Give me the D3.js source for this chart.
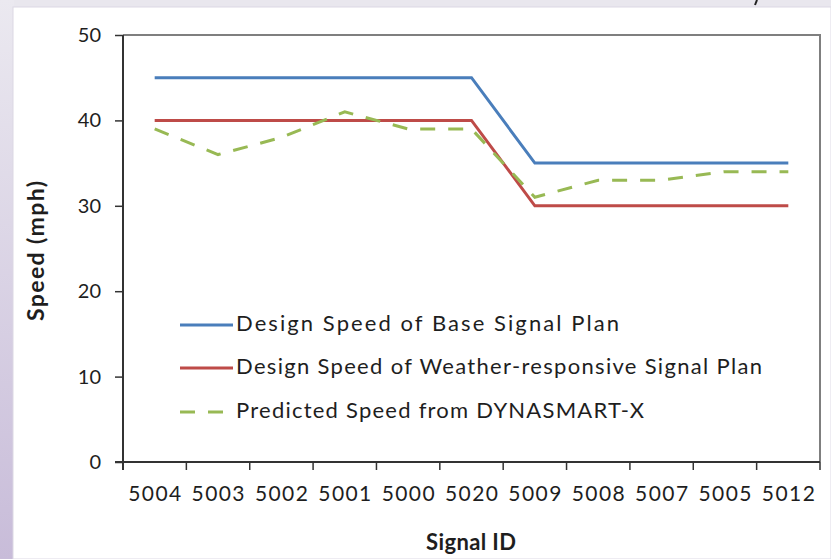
<!DOCTYPE html>
<html>
<head>
<meta charset="utf-8">
<script src="https://cdn.jsdelivr.net/npm/d3@7"></script>
<style>
  html, body { margin: 0; padding: 0; background: #fff; }
  svg { display: block; }
  text { font-family: Lato, "Open Sans", "DejaVu Sans", sans-serif; fill: #1e1e1e; }
</style>
</head>
<body>
<svg id="chart" width="831" height="559"></svg>
<script>
// Signal IDs along the corridor, in travel order
const signals = ["5004", "5003", "5002", "5001", "5000", "5020", "5009", "5008", "5007", "5005", "5012"];

// Speeds in mph at each signal
const baseDesignSpeed    = [45, 45, 45, 45, 45, 45, 35, 35, 35, 35, 35];
const weatherDesignSpeed = [40, 40, 40, 40, 40, 40, 30, 30, 30, 30, 30];
const predictedSpeed     = [39, 36, 38, 41, 39, 39, 31, 33, 33, 34, 34];

const yTicks = [0, 10, 20, 30, 40, 50];

const seriesNames = [
  "Design Speed of Base Signal Plan",
  "Design Speed of Weather-responsive Signal Plan",
  "Predicted Speed from DYNASMART-X"
];

const series = [
  { name: seriesNames[0], values: baseDesignSpeed,    color: "#4a7ebb", dash: null,    textWidth: 383 },
  { name: seriesNames[1], values: weatherDesignSpeed, color: "#be4b48", dash: null,    textWidth: 526 },
  { name: seriesNames[2], values: predictedSpeed,     color: "#98b954", dash: "15,13", textWidth: 408 }
];

const W = 831, H = 559;
const svg = d3.select("#chart");

// Slide frame: lavender strips on the top and left edges
const defs = svg.append("defs");
const grad = defs.append("linearGradient")
  .attr("id", "sideGrad").attr("x1", 0).attr("y1", 0).attr("x2", 0).attr("y2", 1);
grad.append("stop").attr("offset", "0%").attr("stop-color", "#ebe9f0");
grad.append("stop").attr("offset", "100%").attr("stop-color", "#c8bcd9");

svg.append("rect").attr("x", 0).attr("y", 0).attr("width", W).attr("height", H).attr("fill", "#e9e7ee");
svg.append("rect").attr("x", 0).attr("y", 0).attr("width", 14).attr("height", H).attr("fill", "url(#sideGrad)");
svg.append("rect").attr("x", 13).attr("y", 7).attr("width", W - 13).attr("height", H - 7)
  .attr("fill", "#fff").attr("stroke", "#dcd8e4").attr("stroke-width", 1);
// tail of a glyph from the slide title above
svg.append("path").attr("d", "M757,0 L755,5").attr("stroke", "#222").attr("stroke-width", 2);

// Plot area
const plotLeft = 123, plotRight = 820, plotTop = 35, plotBottom = 462;

const x = d3.scaleBand().domain(signals).range([plotLeft, plotRight]).padding(0);
const y = d3.scaleLinear().domain([0, 50]).range([plotBottom, plotTop]);

// Plot border on top and right
svg.append("path")
  .attr("d", `M${plotLeft},${plotTop} H${plotRight} V${plotBottom}`)
  .attr("fill", "none").attr("stroke", "#7f7f7f").attr("stroke-width", 2);

// Y axis
const yAxis = svg.append("g").attr("transform", `translate(${plotLeft},0)`)
  .call(d3.axisLeft(y).tickValues(yTicks).tickSize(8).tickPadding(14).tickSizeOuter(0));
yAxis.select(".domain").attr("stroke", "#333").attr("stroke-width", 2)
  .attr("d", `M0,${plotTop} V${plotBottom + 8}`);
yAxis.selectAll(".tick line").attr("stroke", "#333").attr("stroke-width", 1.5);
yAxis.selectAll(".tick text").attr("font-size", 20).attr("fill", "#1e1e1e")
  .style("font-family", "Lato, sans-serif");

// X axis: ticks sit on category boundaries
const xAxis = svg.append("g").attr("transform", `translate(0,${plotBottom})`)
  .call(d3.axisBottom(x).tickSize(0).tickPadding(24));
xAxis.select(".domain").attr("stroke", "#333").attr("stroke-width", 2)
  .attr("d", `M${plotLeft - 8},0 H${plotRight}`);
xAxis.selectAll(".tick text").attr("font-size", 21).attr("fill", "#1e1e1e")
  .attr("textLength", 53).attr("lengthAdjust", "spacing")
  .style("font-family", "Lato, sans-serif");
const boundaries = signals.map(s => x(s)).concat([x(signals[signals.length - 1]) + x.bandwidth()]);
xAxis.selectAll(".bound").data(boundaries.slice(1)).join("line")
  .attr("class", "bound")
  .attr("x1", d => d).attr("x2", d => d).attr("y1", 0).attr("y2", 8)
  .attr("stroke", "#333").attr("stroke-width", 1.5);

// Axis titles
svg.append("text")
  .attr("transform", `translate(38,251) rotate(-90)`)
  .attr("text-anchor", "middle").attr("dominant-baseline", "middle")
  .attr("font-size", 23).attr("font-weight", "bold")
  .attr("textLength", 140).attr("lengthAdjust", "spacing")
  .text("Speed (mph)");
svg.append("text")
  .attr("x", 471).attr("y", 544)
  .attr("text-anchor", "middle").attr("dominant-baseline", "middle")
  .attr("font-size", 22).attr("font-weight", "bold")
  .attr("textLength", 90).attr("lengthAdjust", "spacing")
  .text("Signal ID");

// Series lines
const line = d3.line()
  .x((d, i) => x(signals[i]) + x.bandwidth() / 2)
  .y(d => y(d));

svg.append("g").selectAll("path").data(series).join("path")
  .attr("d", d => line(d.values))
  .attr("fill", "none")
  .attr("stroke", d => d.color)
  .attr("stroke-width", 3)
  .attr("stroke-dasharray", d => d.dash)
  .attr("stroke-linejoin", "miter");

// Legend
const legend = svg.append("g");
const legendRows = [325, 368, 412];
series.forEach((s, i) => {
  legend.append("line")
    .attr("x1", 180).attr("x2", 233)
    .attr("y1", legendRows[i]).attr("y2", legendRows[i])
    .attr("stroke", s.color).attr("stroke-width", 3)
    .attr("stroke-dasharray", s.dash);
  legend.append("text")
    .attr("x", 236).attr("y", legendRows[i])
    .attr("dominant-baseline", "middle")
    .attr("font-size", 22)
    .attr("textLength", s.textWidth).attr("lengthAdjust", "spacing")
    .text(s.name);
});
</script>
</body>
</html>
